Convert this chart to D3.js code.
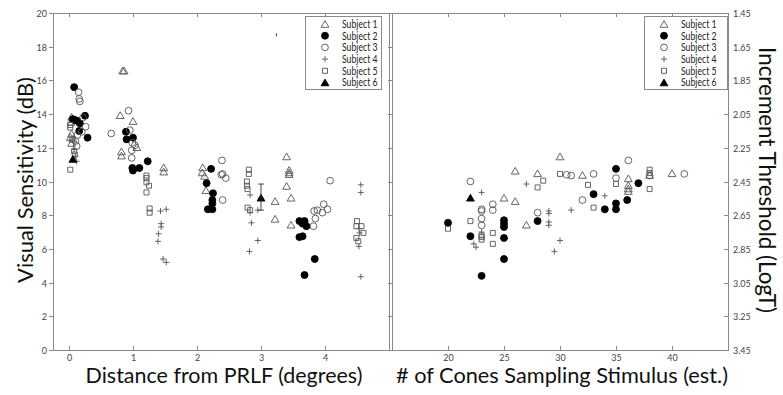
<!DOCTYPE html>
<html><head><meta charset="utf-8">
<script src="https://cdn.jsdelivr.net/npm/d3@7"></script>
<style>body{margin:0;background:#fff}svg{display:block}</style>
</head><body><svg id="c" width="783" height="395"></svg>
<script>
// ---------- data ----------
const subjects = ["Subject 1","Subject 2","Subject 3","Subject 4","Subject 5","Subject 6"];
const yTicksDB = [0,2,4,6,8,10,12,14,16,18,20];
const yTicksLogT = ["1.45","1.65","1.85","2.05","2.25","2.45","2.65","2.85","3.05","3.25","3.45"];
const xTicksDist = [0,1,2,3,4];
const xTicksCones = [20,25,30,35,40];

// Left panel: [distance (deg), sensitivity (dB)]
const distS1 = [[0.04,13.8],[0.03,13.5],[0.04,12.8],[0.02,12.6],[0.04,12.25],[0.06,12.5],
  [0.84,16.55],[0.86,16.55],[0.8,13.9],[1.0,13.55],[1.06,12.0],[0.82,11.75],[0.82,11.5],[1.48,10.8],[1.48,10.55],
  [2.09,10.8],[2.08,10.5],[2.12,10.3],[2.14,9.45],
  [3.40,11.45],[3.44,10.65],[3.44,10.5],[3.44,10.4],[3.40,9.7],[3.22,8.8],[3.47,9.0],[3.22,7.75],[3.47,7.4]];
const distS2 = [[0.08,15.6],[0.25,13.9],[0.06,13.7],[0.09,13.65],[0.13,13.6],[0.17,13.45],[0.16,13.0],[0.29,12.6],
  [0.89,12.95],[0.9,12.5],[1.0,12.6],[0.99,10.8],[1.0,10.65],[1.1,10.8],[1.23,11.2],
  [2.22,10.75],[2.15,9.9],[2.25,9.3],[2.24,8.9],[2.24,8.7],[2.17,8.35],[2.24,8.35],
  [3.6,7.65],[3.68,7.65],[3.65,7.5],[3.71,7.35],[3.6,6.7],[3.65,6.75],[3.84,5.4],[3.68,4.45]];
const distS3 = [[0.15,15.3],[0.16,14.9],[0.17,14.75],[0.22,13.8],[0.26,13.25],[0.13,12.75],[0.2,12.95],[0.1,12.4],[0.12,12.1],
  [0.66,12.85],[0.93,14.2],[0.95,13.05],[0.99,12.3],[1.03,12.15],[0.98,11.85],[0.98,11.4],
  [2.39,11.25],[2.38,10.4],[2.40,10.45],[2.45,10.2],[2.4,8.9],
  [3.83,8.25],[3.88,8.3],[3.85,7.8],[3.82,7.35],[3.98,8.65],[3.96,8.15],[4.04,8.35],[4.08,10.05]];
const distS4 = [[0.1,11.5],[0.12,11.2],[0.08,11.9],
  [1.43,8.25],[1.52,8.35],[1.44,7.5],[1.44,7.3],[1.40,6.9],[1.39,6.45],[1.47,5.4],[1.52,5.2],
  [2.83,9.2],[2.83,8.15],[2.95,8.3],[2.85,7.55],[2.95,6.5],[2.82,5.85],
  [4.56,9.8],[4.56,9.35],[4.53,7.2],[4.54,6.95],[4.53,6.15],[4.56,4.35]];
const distS5 = [[0.02,13.35],[0.02,13.2],[0.08,11.8],[0.09,11.6],[0.02,10.7],[0.05,12.5],
  [1.21,10.35],[1.21,10.2],[1.21,9.95],[1.25,9.75],[1.21,9.35],[1.26,8.4],[1.26,8.15],
  [2.81,10.7],[2.81,10.45],[2.78,10.0],[2.78,9.75],[2.79,9.55],[2.79,8.45],[2.83,8.3],
  [4.5,7.65],[4.49,7.35],[4.57,7.35],[4.6,6.95],[4.49,6.65],[4.52,6.45]];
const distS6 = [[0.06,11.3],[3.0,9.0]];
// error bars on left panel: [distance, low dB, high dB]
const distErr = [[3.0,8.3,9.85],[3.24,18.6,18.8]];

// Right panel: [cone count, sensitivity (dB)]
const coneS1 = [[25,9.0],[26,8.8],[26,10.6],[27,7.4],[28,10.45],[30,11.45],[32,10.35],[36.1,10.15],[36.1,9.75],[36.1,9.55],[36.1,9.4],[38,10.35],[40,10.45]];
const coneS2 = [[20,7.55],[22,6.75],[23,4.4],[25,7.7],[25,7.5],[25,7.3],[25,6.65],[25,5.4],[28,7.65],[33,9.25],[34,8.35],[35,8.7],[35,8.35],[35,10.75],[36,8.9],[37,9.9]];
const coneS3 = [[22,10.0],[23,8.35],[23,8.25],[23,7.8],[23,7.4],[24,8.65],[24,8.3],[28,8.15],[30.6,10.4],[31,10.35],[32,8.9],[33,10.45],[35,10.2],[36.1,11.25],[38,10.35],[41.1,10.45]];
const coneS4 = [[22.3,6.3],[22.5,6.1],[23,9.35],[23,7.0],[27,9.85],[29,8.25],[29,8.1],[29,7.6],[29,7.4],[29.5,5.85],[30,6.5],[31,8.3],[34,9.15]];
const coneS5 = [[20,7.2],[22,7.65],[23,6.8],[23,6.7],[23,6.55],[24,6.95],[24,6.3],[28,9.65],[28.5,10.05],[30,10.45],[32.5,9.8],[33,8.45],[35,9.85],[38,10.7],[38,10.5],[38,9.55]];
const coneS6 = [[22,9.0]];

// ---------- drawing ----------
const svg = d3.select("#c");
const GRAY = "#8a8a8a", MK = "#555", FONT = "Lato,'Open Sans',sans-serif";
const yTop = 13, yBot = 350;
const xL = d3.scaleLinear([-0.25, 5], [53, 389]);
const xR = d3.scaleLinear([15, 45], [392, 728]);
const y = d3.scaleLinear([0, 20], [yBot, yTop]);
const yT = d3.scalePoint(yTicksLogT, [yTop, yBot]);

const TRI = "M0,-4L3.9,2.7L-3.9,2.7Z";
function marker(g, k, cx, cy) {
  const s = g.append("path").attr("transform", `translate(${cx},${cy})`).attr("stroke-width", 0.9);
  if (k === 0) s.attr("d", TRI).attr("fill", "none").attr("stroke", MK);
  else if (k === 1) s.attr("d", d3.symbol(d3.symbolCircle, 38)()).attr("fill", "#000").attr("stroke", "#000");
  else if (k === 2) s.attr("d", d3.symbol(d3.symbolCircle, 36)()).attr("fill", "none").attr("stroke", MK);
  else if (k === 3) s.attr("d", "M-3,0H3M0,-3V3").attr("fill", "none").attr("stroke", MK);
  else if (k === 4) s.attr("d", "M-2.5,-2.5H2.5V2.5H-2.5Z").attr("fill", "none").attr("stroke", MK);
  else s.attr("d", TRI).attr("fill", "#000").attr("stroke", "#000");
}

function panel(xs, x0, x1, xticks, sets, leftLabels) {
  const g = svg.append("g");
  g.append("rect").attr("x", x0 + 0.5).attr("y", yTop + 0.5).attr("width", x1 - x0).attr("height", yBot - yTop)
    .attr("fill", "none").attr("stroke", GRAY).attr("stroke-width", 1);
  xticks.forEach(t => {
    const X = Math.round(xs(t)) + 0.5;
    g.append("line").attr("x1", X).attr("x2", X).attr("y1", yBot).attr("y2", yBot - 4).attr("stroke", GRAY);
    g.append("line").attr("x1", X).attr("x2", X).attr("y1", yTop).attr("y2", yTop + 4).attr("stroke", GRAY);
    g.append("text").attr("x", X).attr("y", yBot + 11).attr("text-anchor", "middle")
      .attr("font-family", FONT).attr("font-size", 9).attr("fill", "#444").text(t);
  });
  yTicksDB.forEach(t => {
    const Y = Math.round(y(t)) + 0.5;
    g.append("line").attr("x1", x0 - 4).attr("x2", x0).attr("y1", Y).attr("y2", Y).attr("stroke", GRAY);
    if (leftLabels) {
      g.append("text").attr("x", x0 - 6).attr("y", Y + 3.2).attr("text-anchor", "end")
        .attr("font-family", FONT).attr("font-size", 9).attr("fill", "#444").text(t);
    }
  });
  sets.forEach((arr, k) => arr.forEach(d => marker(g, k, xs(d[0]), y(d[1]))));
  return g;
}

const gL = panel(xL, 53, 389, xTicksDist, [distS1, distS2, distS3, distS4, distS5, distS6], true);
distErr.forEach(e => {
  const X = xL(e[0]);
  gL.append("line").attr("x1", X).attr("x2", X).attr("y1", y(e[1])).attr("y2", y(e[2])).attr("stroke", "#333").attr("stroke-width", 0.9);
  if (e[2] - e[1] > 0.5) {
    [e[1], e[2]].forEach(v => gL.append("line").attr("x1", X - 3).attr("x2", X + 3).attr("y1", y(v)).attr("y2", y(v)).attr("stroke", "#333").attr("stroke-width", 0.9));
  }
});
const gR = panel(xR, 392, 728, xTicksCones, [coneS1, coneS2, coneS3, coneS4, coneS5, coneS6], false);
yTicksLogT.forEach(t => {
  const Y = Math.round(yT(t)) + 0.5;
  gR.append("line").attr("x1", 724).attr("x2", 728).attr("y1", Y).attr("y2", Y).attr("stroke", GRAY);
  gR.append("text").attr("x", 733).attr("y", Y + 3.2).attr("font-family", FONT).attr("font-size", 9).attr("fill", "#444").text(t);
});

function fitText(sel, w) {
  const L = sel.node().getComputedTextLength();
  const fs = parseFloat(sel.attr("font-size"));
  sel.attr("font-size", fs * w / L);
}
function legend(x0, x1, mx, tx) {
  const g = svg.append("g");
  g.append("rect").attr("x", x0 + 0.5).attr("y", 16.5).attr("width", x1 - x0).attr("height", 73)
    .attr("fill", "#fff").attr("stroke", GRAY);
  subjects.forEach((s, i) => {
    const Y = 24 + i * 11.7;
    marker(g, i, mx, Y + (i === 0 || i === 5 ? 0.6 : 0));
    g.append("text").attr("x", tx).attr("y", Y + 3.8).attr("font-family", FONT).attr("font-size", 10.5)
      .attr("textLength", 35.5).attr("lengthAdjust", "spacingAndGlyphs")
      .attr("fill", "#222").text(s);
  });
}
legend(305, 381, 325, 342);
legend(644, 727, 664, 681);

const t1 = svg.append("text").attr("x", 224).attr("y", 383).attr("text-anchor", "middle")
  .attr("font-family", FONT).attr("font-size", 22).attr("fill", "#111").text("Distance from PRLF (degrees)");
fitText(t1, 277);
const t2 = svg.append("text").attr("x", 562).attr("y", 383).attr("text-anchor", "middle")
  .attr("font-family", FONT).attr("font-size", 22).attr("fill", "#111").text("# of Cones Sampling Stimulus (est.)");
fitText(t2, 332);
const t3 = svg.append("text").attr("transform", "translate(33,180) rotate(-90)").attr("text-anchor", "middle")
  .attr("font-family", FONT).attr("font-size", 22).attr("fill", "#111").text("Visual Sensitivity (dB)");
fitText(t3, 206);
const t4 = svg.append("text").attr("transform", "translate(759,180) rotate(90)").attr("text-anchor", "middle")
  .attr("font-family", FONT).attr("font-size", 22).attr("fill", "#111").text("Increment Threshold (LogT)");
fitText(t4, 266);
</script></body></html>
